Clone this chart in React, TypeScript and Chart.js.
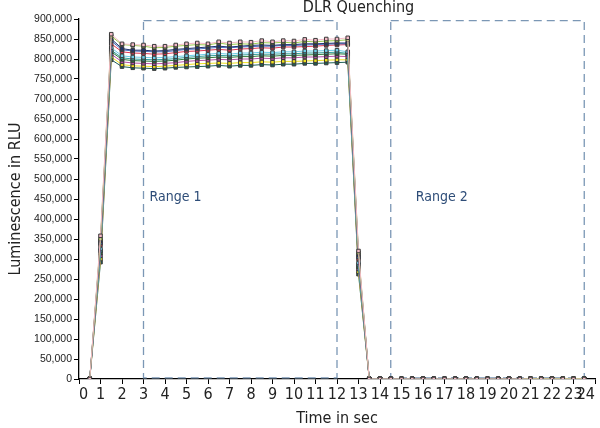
import { useEffect, useRef } from "react";
import { Chart, registerables } from "chart.js";

Chart.register(...registerables);

// reads every 0.5 s
const timeSec = [
  0.5, 1, 1.5, 2, 2.5, 3, 3.5, 4, 4.5, 5, 5.5, 6, 6.5, 7, 7.5, 8, 8.5, 9, 9.5, 10, 10.5, 11, 11.5, 12,
  12.5, 13, 13.5, 14, 14.5, 15, 15.5, 16, 16.5, 17, 17.5, 18, 18.5, 19, 19.5, 20, 20.5, 21, 21.5, 22,
  22.5, 23, 23.5,
];

// luminescence per well, in thousands of RLU
const wellPink = [
  0, 358, 862, 838, 836, 835, 832, 832, 835, 838, 840, 838, 843, 840, 843, 842, 846, 843, 846, 845, 849, 847, 850, 850,
  853, 320, 0, 0, 0, 0, 0, 0, 0, 0, 0, 0, 0, 0, 0, 0, 0, 0, 0, 0, 0, 0, 0,
];
const wellLightGreen = [
  0, 350, 857, 836, 834, 832, 828, 829, 832, 834, 836, 835, 840, 836, 838, 837, 841, 840, 842, 840, 844, 843, 845, 846,
  848, 315, 0, 0, 0, 0, 0, 0, 0, 0, 0, 0, 0, 0, 0, 0, 0, 1, 1, 1, 1, 1, 1,
];
const wellNavy = [
  0, 345, 850, 826, 822, 822, 820, 821, 824, 826, 828, 830, 832, 830, 832, 834, 835, 834, 836, 836, 838, 838, 839, 840,
  840, 310, 0, 0, 0, 0, 0, 0, 0, 0, 0, 0, 0, 0, 0, 0, 0, 0, 0, 0, 0, 0, 0,
];
const wellBlue = [
  0, 340, 845, 823, 820, 819, 818, 818, 821, 824, 825, 827, 829, 828, 830, 831, 832, 832, 834, 834, 835, 836, 837, 838,
  838, 305, 0, 0, 0, 0, 0, 0, 0, 0, 0, 0, 0, 0, 0, 0, 0, 0, 0, 0, 0, 0, 0,
];
const wellRed = [
  0, 335, 838, 818, 815, 814, 812, 813, 816, 819, 820, 822, 824, 822, 825, 826, 828, 827, 830, 830, 831, 832, 834, 835,
  836, 300, 0, 0, 0, 0, 0, 0, 0, 0, 0, 0, 0, 0, 0, 0, 0, 0, 0, 0, 0, 0, 0,
];
const wellCyan = [
  0, 325, 828, 808, 805, 804, 803, 804, 806, 808, 810, 812, 814, 812, 815, 815, 817, 816, 818, 818, 820, 820, 821, 822,
  818, 290, 0, 0, 0, 0, 0, 0, 0, 0, 0, 0, 0, 0, 0, 0, 0, 0, 0, 0, 0, 0, 0,
];
const wellTeal = [
  0, 320, 822, 803, 800, 799, 798, 799, 801, 804, 806, 808, 809, 808, 810, 811, 812, 812, 813, 813, 815, 815, 816, 817,
  814, 285, 0, 0, 0, 0, 0, 0, 0, 0, 0, 0, 0, 0, 0, 0, 0, 0, 0, 0, 0, 0, 0,
];
const wellDarkGreen = [
  0, 315, 818, 799, 796, 795, 794, 795, 797, 800, 802, 803, 805, 804, 806, 806, 808, 807, 809, 809, 810, 811, 812, 813,
  812, 280, 0, 0, 0, 0, 0, 0, 0, 0, 0, 0, 0, 0, 0, 0, 0, 0, 0, 0, 0, 0, 0,
];
const wellMagenta = [
  0, 308, 812, 793, 790, 789, 788, 789, 791, 794, 796, 797, 799, 798, 800, 800, 802, 801, 803, 803, 805, 805, 806, 807,
  806, 275, 0, 0, 0, 0, 0, 0, 0, 0, 0, 0, 0, 0, 0, 0, 0, 0, 0, 0, 0, 0, 0,
];
const wellYellow = [
  0, 300, 805, 786, 783, 782, 781, 782, 784, 786, 788, 789, 790, 789, 791, 791, 793, 792, 794, 794, 795, 796, 797, 798,
  798, 268, 0, 0, 0, 0, 0, 0, 0, 0, 0, 0, 0, 0, 0, 0, 0, 0, 0, 0, 0, 0, 0,
];
const wellDarkTeal = [
  0, 292, 798, 781, 778, 777, 776, 777, 779, 780, 781, 782, 784, 782, 784, 784, 786, 785, 787, 787, 789, 789, 790, 791,
  792, 262, 0, 0, 0, 0, 0, 0, 0, 0, 0, 0, 0, 0, 0, 0, 0, 0, 0, 0, 0, 0, 0,
];

const wells = [
  wellPink, wellLightGreen, wellNavy, wellBlue, wellRed, wellCyan,
  wellTeal, wellDarkGreen, wellMagenta, wellYellow, wellDarkTeal,
];
const wellColors = [
  "#f4b9c6", "#9ccb4c", "#1f3370", "#4a6fc0", "#e0354f", "#6ccde8",
  "#2f9e9a", "#2e7a3c", "#b54fa3", "#efe11c", "#1e5f55",
];

// measurement windows (seconds)
const rangeNames = ["Range 1", "Range 2"];
const rangeFrom = [3, 14.5];
const rangeTo = [12, 23.5];

const NARROW = "'Liberation Sans Narrow', 'DejaVu Sans Condensed', sans-serif";
const SANS = "'Liberation Sans', Arial, sans-serif";

const overlay = {
  id: "overlay",
  beforeDatasetsDraw(chart: any) {
    const { ctx, scales } = chart;
    const x = scales.x;
    const y = scales.y;
    ctx.save();
    ctx.strokeStyle = "#7b97b5";
    ctx.lineWidth = 1.3;
    ctx.setLineDash([8, 5]);
    const top = y.getPixelForValue(896000);
    const bottom = y.getPixelForValue(3000);
    rangeNames.forEach((name, i) => {
      const l = x.getPixelForValue(rangeFrom[i]);
      const r = x.getPixelForValue(rangeTo[i]);
      ctx.strokeRect(l, top, r - l, bottom - top);
      ctx.fillStyle = "#2e4d78";
      ctx.font = `14px ${NARROW}`;
      ctx.textAlign = "left";
      ctx.textBaseline = "middle";
      ctx.fillText(name, l + (i === 0 ? 6 : 25), y.getPixelForValue(455000));
    });
    ctx.restore();
  },
  afterDraw(chart: any) {
    const { ctx, scales } = chart;
    ctx.save();
    ctx.fillStyle = "#222";
    ctx.font = `16px ${NARROW}`;
    ctx.textAlign = "center";
    ctx.textBaseline = "middle";
    ctx.fillText("DLR Quenching", scales.x.getPixelForValue(13), 8);
    ctx.restore();
  },
};

export default function App() {
  const canvasRef = useRef<HTMLCanvasElement>(null);

  useEffect(() => {
    if (!canvasRef.current) return;
    const ctx = canvasRef.current.getContext("2d");
    if (!ctx) return;

    const chart = new Chart(ctx, {
      type: "line",
      data: {
        datasets: wells.map((values, i) => ({
          label: `Well ${i + 1}`,
          data: values.map((v, j) => ({ x: timeSec[j], y: v * 1000 })),
          borderColor: wellColors[i],
          borderWidth: 1,
          pointStyle: "rect",
          pointRadius: 2.5,
          pointBackgroundColor: wellColors[i],
          pointBorderColor: "#3a3a3a",
          pointBorderWidth: 1,
        })),
      },
      options: {
        animation: false,
        responsive: false,
        maintainAspectRatio: false,
        layout: { padding: { top: 19, right: 4, left: 0, bottom: 0 } },
        plugins: {
          legend: { display: false },
          tooltip: { enabled: false },
        },
        scales: {
          x: {
            type: "linear",
            min: 0,
            max: 24,
            afterFit: (s: any) => {
              s.height = 49;
              s.paddingLeft = 0;
              s.paddingRight = 0;
            },
            ticks: {
              stepSize: 1,
              color: "#222",
              padding: 1,
              maxRotation: 0,
              autoSkip: false,
              align: "inner",
              font: { family: NARROW, size: 16 },
            },
            grid: { display: true, drawOnChartArea: false, tickLength: 5, color: "#000" },
            border: { color: "#000", width: 1.3 },
            title: {
              display: true,
              text: "Time in sec",
              color: "#222",
              padding: { top: -4, bottom: 0 },
              font: { family: NARROW, size: 16 },
            },
          },
          y: {
            min: 0,
            max: 900000,
            afterFit: (s: any) => {
              s.width = 79;
            },
            ticks: {
              stepSize: 50000,
              color: "#222",
              padding: 2,
              font: { family: SANS, size: 10.5 },
              callback: (v: any) => Number(v).toLocaleString("en-US"),
            },
            grid: { display: true, drawOnChartArea: false, tickLength: 5, color: "#000" },
            border: { color: "#000", width: 1.3 },
            title: {
              display: true,
              text: "Luminescence in RLU",
              color: "#222",
              padding: { top: 6, bottom: 0 },
              font: { family: NARROW, size: 16 },
            },
          },
        },
      },
      plugins: [overlay],
    });

    return () => chart.destroy();
  }, []);

  return (
    <div style={{ position: "fixed", left: 0, top: 0, width: 600, height: 428, background: "#fff" }}>
      <canvas ref={canvasRef} width={600} height={428} />
    </div>
  );
}
